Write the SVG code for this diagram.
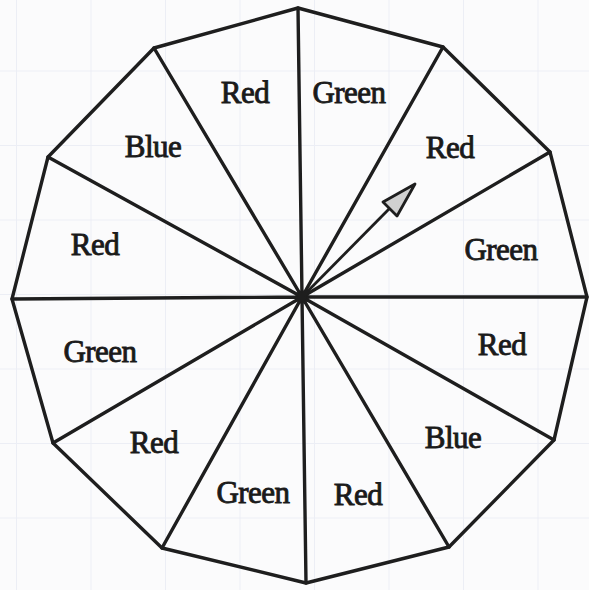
<svg xmlns="http://www.w3.org/2000/svg" width="589" height="590" viewBox="0 0 589 590">
<defs>
<pattern id="grid" x="16" y="-4" width="74.5" height="74.5" patternUnits="userSpaceOnUse">
<path d="M0 0V74.5M0 0H74.5" fill="none" stroke="#eceef5" stroke-width="2"/>
</pattern>
<style>
.edge{fill:none;stroke:#1e1e1e;stroke-width:3.4;stroke-linejoin:round;stroke-linecap:round}
.lbl{font-family:"Liberation Serif","Times New Roman",serif;font-size:31px;fill:#1a1a1a;stroke:#1a1a1a;stroke-width:0.9;text-anchor:middle;letter-spacing:-0.5px}
</style>
</defs>
<rect width="589" height="590" fill="#fbfbfc"/>
<rect width="589" height="590" fill="url(#grid)"/>
<g id="outline">
<polygon class="edge" points="298,8 443,47 550,152 587,297 554,440 449,547 306,583 162,548 53,443 12,299 48,157 154,48"/>
</g>
<g id="connectors">
<path class="edge" d="M302,297L298,8M302,297L443,47M302,297L550,152M302,297L587,297M302,297L554,440M302,297L449,547M302,297L306,583M302,297L162,548M302,297L53,443M302,297L12,299M302,297L48,157M302,297L154,48"/>
<circle cx="302" cy="297" r="4.5" fill="#1e1e1e"/>
</g>
<g id="pointer">
<line x1="302" y1="297" x2="390" y2="208" stroke="#1e1e1e" stroke-width="2.8"/>
<polygon points="415,184 383,202 397,216" fill="#d0d0d0" stroke="#1e1e1e" stroke-width="2.8" stroke-linejoin="round"/>
</g>
<g id="sector-1"><text class="lbl" x="245" y="103">Red</text></g>
<g id="sector-2"><text class="lbl" x="349" y="103">Green</text></g>
<g id="sector-3"><text class="lbl" x="450" y="158">Red</text></g>
<g id="sector-4"><text class="lbl" x="501" y="260">Green</text></g>
<g id="sector-5"><text class="lbl" x="502" y="355">Red</text></g>
<g id="sector-6"><text class="lbl" x="453" y="448">Blue</text></g>
<g id="sector-7"><text class="lbl" x="358" y="505">Red</text></g>
<g id="sector-8"><text class="lbl" x="253" y="503">Green</text></g>
<g id="sector-9"><text class="lbl" x="154" y="453">Red</text></g>
<g id="sector-10"><text class="lbl" x="100" y="362">Green</text></g>
<g id="sector-11"><text class="lbl" x="95" y="255">Red</text></g>
<g id="sector-12"><text class="lbl" x="153" y="157">Blue</text></g>
</svg>
